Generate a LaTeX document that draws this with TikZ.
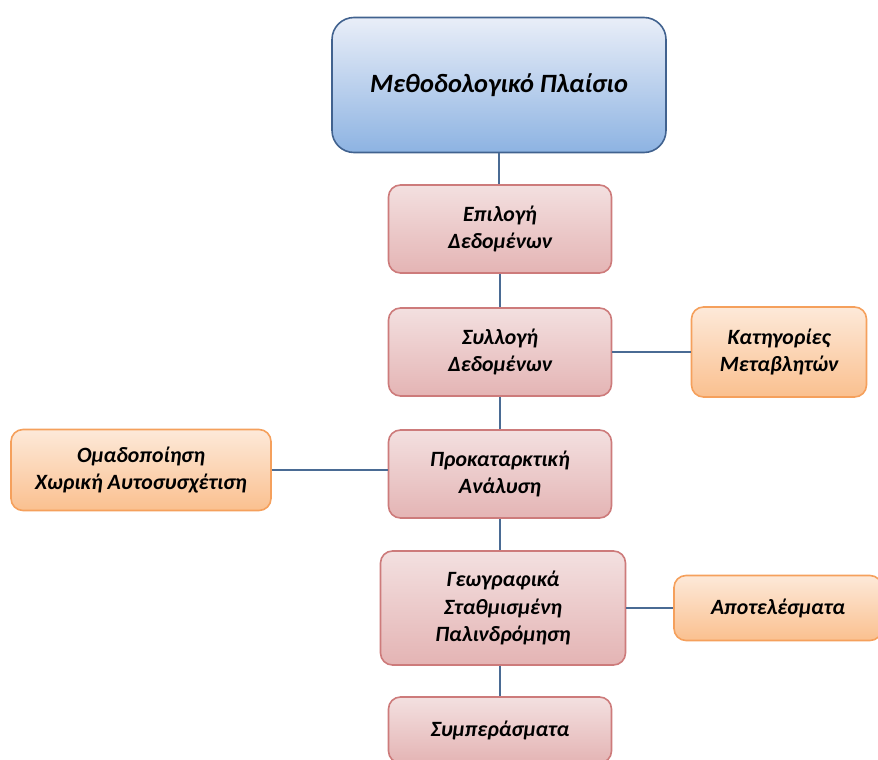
\documentclass[tikz,border=0pt]{standalone}
\usepackage{fontspec}
\setmainfont{Carlito}
\definecolor{mainline}{HTML}{41628F}
\definecolor{maintop}{HTML}{E9EEF8}
\definecolor{mainbot}{HTML}{8DB3E2}
\definecolor{stepline}{HTML}{CD7B7B}
\definecolor{steptop}{HTML}{F3E0E0}
\definecolor{stepbot}{HTML}{E4B4B4}
\definecolor{sideline}{HTML}{F5A05C}
\definecolor{sidetop}{HTML}{FDE9D9}
\definecolor{sidebot}{HTML}{FAC08F}
\definecolor{linkcol}{HTML}{4A6B94}

\begin{document}
\begin{tikzpicture}[x=1pt,y=-1pt,
  box/.style={draw,line width=1.6pt,rounded corners=12pt,align=center,
    font=\fontsize{21.8}{27.5}\selectfont\bfseries\itshape},
  mainbox/.style={box,draw=mainline,top color=maintop,bottom color=mainbot,
    minimum width=334pt,minimum height=135pt,rounded corners=22pt,
    font=\fontsize{26.4}{31}\selectfont\bfseries\itshape},
  stepbox/.style={box,draw=stepline,top color=steptop,bottom color=stepbot,
    minimum width=223pt,minimum height=88pt},
  sidebox/.style={box,draw=sideline,top color=sidetop,bottom color=sidebot},
  link/.style={draw=linkcol,line width=2pt}]
\useasboundingbox (0,0) rectangle (878,760);
% main chain
\node[mainbox] (frame) at (499,85) {Μεθοδολογικό Πλαίσιο};
\node[stepbox] (select) at (500,229) {Επιλογή\\Δεδομένων};
\node[stepbox] (collect) at (500,352) {Συλλογή\\Δεδομένων};
\node[stepbox] (prelim) at (500,474) {Προκαταρκτική\\Ανάλυση};
\node[stepbox,minimum width=245pt,minimum height=114pt] (gwr) at (503,608)
  {Γεωγραφικά\\Σταθμισμένη\\Παλινδρόμηση};
\node[stepbox,minimum height=66pt] (concl) at (500,730) {Συμπεράσματα};
% side boxes
\node[sidebox,minimum width=175pt,minimum height=90pt] (categ) at (779,352)
  {Κατηγορίες\\Μεταβλητών};
\node[sidebox,minimum width=260pt,minimum height=81pt] (cluster) at (141,470)
  {Ομαδοποίηση\\Χωρική Αυτοσυσχέτιση};
\node[sidebox,minimum width=208pt,minimum height=65pt] (results) at (778,608)
  {Αποτελέσματα};
% connectors
\draw[link] (frame) -- (frame |- select.north);
\draw[link] (select) -- (collect);
\draw[link] (collect) -- (prelim);
\draw[link] (prelim) -- (prelim |- gwr.north);
\draw[link] (prelim |- gwr.south) -- (concl);
\draw[link] (collect) -- (categ);
\draw[link] (cluster) -- (cluster -| prelim.west);
\draw[link] (gwr) -- (results);
\end{tikzpicture}
\end{document}
